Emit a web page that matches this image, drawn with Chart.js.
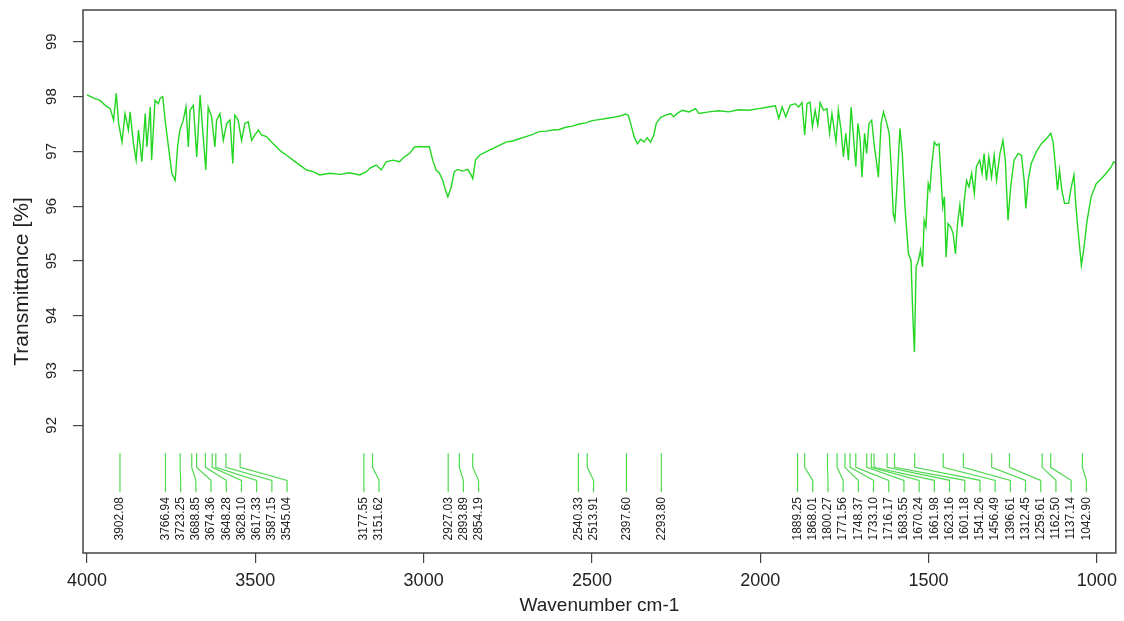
<!DOCTYPE html>
<html><head><meta charset="utf-8">
<script src="https://cdn.jsdelivr.net/npm/chart.js@4.4.1/dist/chart.umd.min.js"></script>
<style>html,body{margin:0;padding:0;background:#fff}#wrap{width:1124px;height:621px}</style>
</head><body><div id="wrap"><canvas id="c" width="1124" height="621"></canvas></div>
<script>
const wavenumbers = [
4000,3980,3961,3946,3931,3921,3913,3906,3896,3887,3877,3872,3862,3854,3847,3837,3827,3822,3812,3808,
3798,3788,3783,3775,3768,3758,3748,3738,3731,3724,3714,3706,3699,3694,3684,3674,3664,3654,3647,3640,
3630,3620,3615,3605,3595,3585,3575,3567,3561,3551,3541,3531,3521,3511,3501,3491,3482,3467,3452,3437,
3422,3407,3388,3368,3348,3328,3309,3279,3249,3220,3190,3170,3160,3151,3141,3126,3111,3091,3072,3057,
3042,3027,3012,2997,2983,2973,2963,2953,2943,2935,2928,2918,2909,2899,2884,2869,2859,2854,2846,2834,
2815,2795,2775,2755,2736,2716,2696,2676,2657,2637,2617,2597,2578,2558,2538,2518,2499,2479,2459,2439,
2420,2400,2392,2385,2375,2365,2355,2345,2336,2326,2316,2309,2296,2281,2266,2257,2247,2232,2212,2192,
2182,2153,2123,2094,2064,2034,2005,1975,1955,1945,1935,1924,1911,1896,1886,1876,1868,1861,1852,1845,
1837,1829,1822,1812,1802,1794,1787,1775,1768,1760,1753,1746,1738,1730,1723,1716,1710,1703,1698,1690,
1684,1677,1669,1661,1654,1649,1641,1634,1624,1617,1611,1605,1600,1593,1585,1578,1570,1560,1552,1547,
1542,1537,1530,1524,1518,1513,1508,1501,1496,1491,1483,1476,1469,1463,1458,1453,1448,1442,1434,1427,
1420,1414,1407,1400,1394,1387,1380,1372,1364,1358,1348,1341,1335,1328,1321,1313,1305,1298,1288,1279,
1272,1264,1256,1246,1234,1224,1216,1211,1204,1195,1180,1165,1150,1137,1130,1123,1117,1111,1104,1096,
1084,1076,1068,1063,1056,1046,1038,1029,1017,1002,987,972,957,950,943
];
const transmittance = [
98.03,97.97,97.93,97.84,97.78,97.57,98.06,97.51,97.17,97.69,97.39,97.72,97.14,96.84,97.39,96.81,97.69,97.08,97.81,96.84,
97.93,97.87,97.97,98.00,97.57,97.08,96.60,96.47,97.08,97.39,97.57,97.81,97.08,97.75,97.84,96.90,98.03,97.20,96.66,97.81,
97.63,97.08,97.57,97.69,97.20,97.51,97.57,96.78,97.66,97.57,97.20,97.51,97.54,97.20,97.30,97.39,97.30,97.27,97.17,97.08,
96.99,96.93,96.84,96.75,96.66,96.63,96.57,96.60,96.58,96.61,96.57,96.63,96.69,96.72,96.75,96.66,96.81,96.84,96.81,96.90,
96.96,97.08,97.09,97.08,97.09,96.84,96.66,96.60,96.47,96.29,96.17,96.35,96.63,96.67,96.64,96.67,96.57,96.50,96.84,96.93,
96.99,97.05,97.11,97.17,97.19,97.23,97.27,97.31,97.36,97.37,97.39,97.40,97.44,97.46,97.50,97.52,97.56,97.58,97.60,97.62,
97.64,97.68,97.66,97.51,97.27,97.14,97.22,97.17,97.25,97.17,97.30,97.51,97.62,97.66,97.69,97.63,97.69,97.75,97.72,97.78,
97.69,97.72,97.74,97.72,97.76,97.75,97.78,97.81,97.83,97.60,97.81,97.63,97.84,97.87,97.81,97.89,97.30,97.87,97.90,97.45,
97.75,97.48,97.89,97.75,97.78,97.33,97.69,97.17,97.75,97.39,96.90,97.33,96.84,97.81,97.27,96.72,97.51,97.20,96.53,97.33,
96.96,97.51,97.57,97.08,96.78,96.53,97.51,97.72,97.51,97.33,96.72,95.87,95.74,96.47,97.42,96.96,95.99,95.14,95.01,94.04,
93.34,94.89,95.01,95.20,94.89,95.74,95.62,96.41,96.29,96.72,97.17,97.11,97.14,96.53,95.99,96.17,95.07,95.68,95.62,95.50,
95.13,95.68,96.02,95.62,96.11,96.47,96.35,96.60,96.23,96.72,96.84,96.60,96.96,96.47,96.90,96.53,96.93,96.47,96.96,97.20,
96.84,95.74,96.35,96.84,96.96,96.93,96.47,95.96,96.47,96.78,96.99,97.14,97.23,97.33,97.17,96.72,96.29,96.66,96.29,96.05,
96.05,96.35,96.57,96.05,95.56,94.92,95.26,95.74,96.17,96.41,96.50,96.60,96.72,96.81,96.78
];
const peakPositions = [
3902.08,3766.94,3723.25,3688.85,3674.36,3648.28,3628.10,3617.33,3587.15,3545.04,
3177.55,3151.62,2927.03,2893.89,2854.19,2540.33,2513.91,2397.60,2293.80,
1889.25,1868.01,1800.27,1771.56,1748.37,1733.10,1716.17,1683.55,1670.24,1661.98,
1623.16,1601.18,1541.26,1456.49,1396.61,1312.45,1259.61,1162.50,1137.14,1042.90
];
const xTickValues = [4000,3500,3000,2500,2000,1500,1000];
const yTickValues = [92,93,94,95,96,97,98,99];
const xTitle = 'Wavenumber cm-1';
const yTitle = 'Transmittance [%]';

const FONT = "'Liberation Sans', Arial, sans-serif";
const TEXT = '#222';
const AXIS = '#444';

const points = wavenumbers.map((w, i) => ({x: w, y: transmittance[i]}));

const decorPlugin = {
  id: 'decor',
  afterDraw(chart) {
    const ctx = chart.ctx;
    const a = chart.chartArea;
    const xs = chart.scales.x, ys = chart.scales.y;
    ctx.save();
    // box
    ctx.strokeStyle = AXIS;
    ctx.lineWidth = 1.5;
    ctx.strokeRect(a.left, a.top, a.right - a.left, a.bottom - a.top);
    // y tick labels (rotated)
    ctx.fillStyle = TEXT;
    ctx.font = '15px ' + FONT;
    ctx.textAlign = 'center';
    ctx.textBaseline = 'middle';
    yTickValues.forEach(v => {
      ctx.save();
      ctx.translate(52, ys.getPixelForValue(v));
      ctx.rotate(-Math.PI / 2);
      ctx.fillText(String(v), 0, 0);
      ctx.restore();
    });
    // axis titles
    ctx.font = '19px ' + FONT;
    ctx.fillText(xTitle, (a.left + a.right) / 2, 606);
    ctx.save();
    ctx.translate(22, (a.top + a.bottom) / 2);
    ctx.rotate(-Math.PI / 2);
    ctx.font = '21px ' + FONT;
    ctx.fillText(yTitle, 0, 0);
    ctx.restore();

    // peak markers with de-overlapped labels
    const items = peakPositions.map(v => ({v, px: xs.getPixelForValue(v)}))
      .sort((p, q) => p.px - q.px);
    const gap = 15.2;
    let prev = -Infinity;
    items.forEach(it => { it.lx = Math.max(it.px, prev + gap); prev = it.lx; });
    const yTop = ys.getPixelForValue(91.49);
    const yB1 = ys.getPixelForValue(91.233);
    const yB2 = ys.getPixelForValue(90.996);
    const yBot = ys.getPixelForValue(90.777);
    const yLab = ys.getPixelForValue(90.69);
    ctx.strokeStyle = '#52d852';
    ctx.lineWidth = 1.2;
    items.forEach(it => {
      ctx.beginPath();
      ctx.moveTo(it.px, yTop);
      ctx.lineTo(it.px, yB1);
      ctx.lineTo(it.lx, yB2);
      ctx.lineTo(it.lx, yBot);
      ctx.stroke();
    });
    ctx.fillStyle = TEXT;
    ctx.font = '12px ' + FONT;
    ctx.textAlign = 'right';
    ctx.textBaseline = 'middle';
    items.forEach(it => {
      ctx.save();
      ctx.translate(it.lx, yLab);
      ctx.rotate(-Math.PI / 2);
      ctx.fillText(it.v.toFixed(2), 0, 0);
      ctx.restore();
    });
    ctx.restore();
  }
};

new Chart(document.getElementById('c'), {
  type: 'line',
  data: {datasets: [{
    data: points,
    borderColor: '#22d622',
    borderWidth: 1.4,
    pointRadius: 0,
    tension: 0,
    fill: false
  }]},
  options: {
    responsive: false,
    animation: false,
    devicePixelRatio: 1,
    layout: {padding: {top: 10, right: 6, left: 0, bottom: 0}},
    plugins: {legend: {display: false}, tooltip: {enabled: false}, title: {display: false}},
    scales: {
      x: {
        type: 'linear', reverse: true, min: 943.7, max: 4011.9,
        afterBuildTicks: s => { s.ticks = xTickValues.map(v => ({value: v})); },
        afterFit: s => { s.height = 68; },
        grid: {drawOnChartArea: false, drawTicks: true, tickLength: 10, color: AXIS, lineWidth: 1.2},
        border: {display: false},
        ticks: {font: {family: FONT, size: 18}, color: TEXT, padding: 7, maxRotation: 0, minRotation: 0, autoSkip: false,
                callback: v => String(v)}
      },
      y: {
        type: 'linear', min: 89.67, max: 99.58,
        afterBuildTicks: s => { s.ticks = yTickValues.map(v => ({value: v})); },
        afterFit: s => { s.width = 83; },
        grid: {drawOnChartArea: false, drawTicks: true, tickLength: 10, color: AXIS, lineWidth: 1.2},
        border: {display: false},
        ticks: {display: false}
      }
    }
  },
  plugins: [decorPlugin]
});
</script>
</body></html>
